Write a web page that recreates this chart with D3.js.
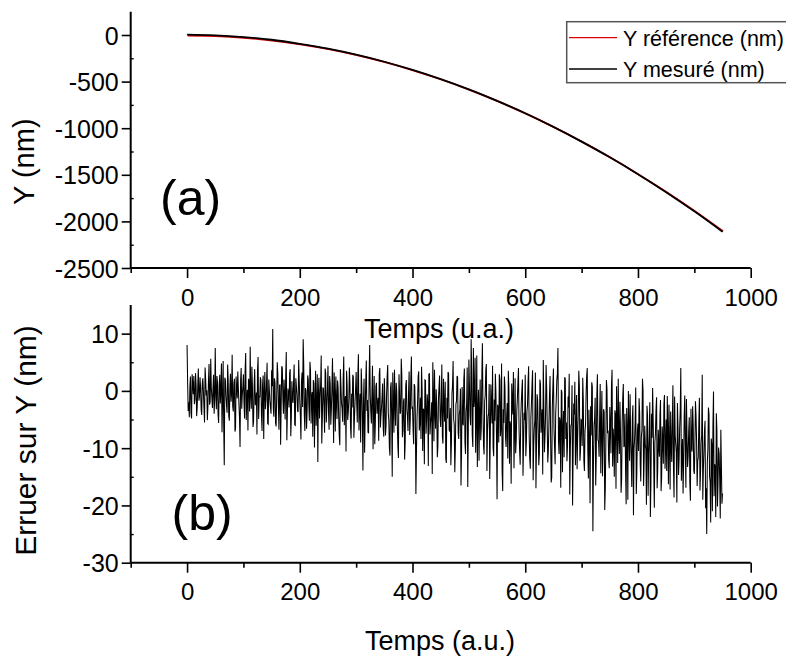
<!DOCTYPE html>
<html><head><meta charset="utf-8">
<script src="https://cdn.jsdelivr.net/npm/d3@7/dist/d3.min.js"></script>
<style>
html,body{margin:0;padding:0;background:#fff;}
svg text{font-family:"Liberation Sans",Arial,Helvetica,sans-serif;fill:#000;}
</style></head>
<body>
<svg id="chart" width="786" height="662"></svg>
<script>
// ---------- DATA ----------
const timeCoarse = [0,50,100,150,200,250,300,350,400,450,500,550,600,650,700,750,800,850,900,950];
const yReference = [0,-5.8,-23.3,-52.4,-93.1,-145.4,-209.4,-285,-372.3,-471.2,-581.7,-703.9,-837.7,-983.1,-1140.2,-1308.9,-1489.2,-1681.2,-1884.8,-2100];
const yMeasured  = [3,-4,-22,-51,-95,-147,-211,-287,-375,-474,-584,-707,-840,-986,-1144,-1312,-1493,-1686,-1892,-2110];
// error on Y at even times t = 0,2,4,...,950
const errorEven = [
 8.0,-3.5,-4.6,2.5,-4.8,1.2,2.6,-1.5,1.0,-2.8,3.9,-1.0,0.5,-4.2,2.2,-3.0,4.1,-0.8,-5.1,1.8,-2.4,5.6,-1.2,0.4,-4.0,
 7.5,-3.2,1.5,-5.6,2.8,0.3,-7.2,5.2,-13.0,1.9,-2.5,4.6,-4.4,0.8,-1.9,6.3,-3.6,2.1,-6.5,0.2,3.4,-2.2,-9.8,4.0,-0.6,
 2.9,-4.8,6.6,-1.4,-6.9,1.6,7.7,-3.1,0.6,-5.3,3.8,-2.0,-7.6,5.9,-0.9,2.4,-4.3,1.1,-8.4,3.3,-1.7,4.9,-5.8,0.1,-2.9,
 3.6,10.8,-4.5,1.4,-6.2,5.0,-2.6,0.9,-9.4,4.3,-1.3,2.0,-5.0,6.8,-3.8,-0.4,3.1,-7.9,1.7,-2.1,4.6,-6.0,0.7,-3.4,5.4,
 -1.8,-8.5,3.2,9.0,-4.1,0.5,-6.6,2.7,-2.4,5.1,-5.7,-0.2,1.9,-9.9,3.5,-3.0,-12.4,2.3,-1.1,6.2,-4.6,0.4,-7.3,3.0,-2.7,
 4.4,-6.8,1.2,-3.3,5.7,-9.1,-0.8,2.5,-4.9,0.6,-7.7,3.8,-2.2,-5.4,6.0,-1.5,-10.6,1.0,-3.7,4.1,-6.3,-0.5,2.8,-8.2,-1.9,
 3.3,-5.5,6.4,-2.9,-9.0,0.9,-13.9,2.1,-4.2,5.3,-1.6,-7.4,8.0,-3.6,-0.3,-10.2,2.6,-5.9,1.4,-2.5,-8.7,4.0,-4.4,-1.0,-6.5,
 2.2,-7.8,-0.7,4.5,-5.2,-11.3,1.5,-15.0,-2.3,3.7,-6.1,-0.1,-9.6,2.9,-4.0,5.6,-8.1,-1.8,-12.0,1.0,-3.2,-7.0,3.4,-5.0,6.0,
 -2.9,-9.3,0.8,-18.0,-4.7,2.6,-6.9,-1.2,4.2,-10.5,-3.4,1.9,-7.5,-0.6,-13.1,3.1,-5.6,-2.0,5.0,-8.8,-3.9,0.3,-11.6,-1.5,2.7,
 -6.3,4.6,-9.2,-2.7,1.6,-12.6,-4.8,3.0,-7.1,-13.0,-0.5,5.2,-5.9,-10.0,-1.8,2.4,-8.4,-3.3,-16.5,0.7,-6.0,3.9,-11.0,-2.4,-16.8,
 5.5,-4.2,9.0,-7.7,7.5,-1.1,-10.8,6.2,-3.6,-12.2,2.0,-6.4,8.3,-9.5,-1.9,3.6,-14.0,-4.5,1.2,-8.0,-2.6,4.4,-11.4,-5.2,-0.4,
 -18.9,-3.0,2.9,-7.9,4.8,-17.5,-5.6,0.6,-9.8,-2.1,3.5,-12.7,-6.0,1.3,-4.1,-13.5,2.2,-8.6,-1.4,4.0,-10.3,-5.0,0.1,-14.8,-3.8,
 2.8,-8.9,-2.5,4.3,-11.9,-4.7,1.0,-15.6,-6.5,3.2,-9.2,-1.6,-13.0,2.0,-7.3,-3.2,5.4,-10.7,-4.4,0.4,-12.5,-5.9,2.6,-16.0,-2.9,
 3.9,-9.7,-4.0,1.8,7.5,-11.0,-5.3,0.2,-14.2,-3.5,2.4,-8.4,-12.3,-1.0,3.0,-9.9,-5.8,-20.0,-2.2,1.6,-7.6,-13.7,-3.9,0.9,-10.6,
 -5.1,2.3,-12.1,-7.0,-0.5,4.0,-15.3,-8.2,-2.7,1.5,-24.5,-6.2,-1.2,-11.3,2.9,-8.8,-4.6,-14.4,0.0,-9.5,-3.7,-17.2,1.9,-7.4,-12.0,
 -2.8,-10.9,3.7,-6.6,-15.0,-4.1,0.8,-12.6,-7.9,-1.9,-17.8,-5.4,1.2,-9.4,-13.9,-3.0,-19.0,-7.1,-0.6,-11.8,-4.9,-21.7,-8.5,0.6,-14.1,
 -5.7,-1.3,-12.9,-8.0,2.1,-16.6,-6.1,-10.2,-2.6,-18.3,-7.6,-22.0,-4.0,0.5,-13.2,-9.0,-3.3,-17.0,-6.8,-11.5,-1.6,-15.1,-8.7,-2.3,-13.6,
 -5.0,-0.9,-16.3,-9.3,-3.6,-12.4,1.0,-18.6,-7.7,-10.8,-2.1,-14.7,-6.4,4.0,-11.2,-17.9,-4.5,-9.8,-1.4,-13.3,-7.2,-16.0,-3.1,-10.6,-6.0,
 -14.5,-1.8,-8.9,-12.2,-5.5,-17.4,-9.1,2.8,-13.8,-7.0,-20.5,-25.0,-10.3,-4.1,-15.9,-8.3,-21.0,-0.1,-12.8,-22.0,-6.7,-16.2,-11.0,-22.3,-13.0,
 -17.9
];
// error on Y at odd times t = 1,3,5,...,949
const errorOdd = [
 1.5,-2.0,0.8,-3.9,2.9,-0.6,-2.3,3.1,-4.4,0.9,-1.7,2.4,-3.3,1.3,-0.2,-5.5,2.0,0.1,-2.6,4.7,-1.9,0.6,-3.0,2.8,-1.4,
 -0.5,2.6,-4.1,0.9,-2.2,4.8,-1.6,-6.0,2.3,-0.9,-3.8,1.7,-5.2,3.0,-0.4,-2.7,1.2,-7.1,2.5,-1.3,0.4,-4.6,1.9,-3.1,0.7,
 -1.9,3.4,-5.1,0.2,2.1,-3.6,-0.8,4.2,-6.3,1.0,-2.5,-0.3,3.6,-4.9,-1.1,1.8,-7.0,2.7,-0.5,-3.2,1.4,-5.7,2.0,-1.8,-4.0,
 0.8,-3.0,2.2,-5.6,-0.9,3.0,-6.8,1.1,-2.2,4.0,-4.0,-0.7,2.5,-8.6,0.4,-2.9,3.8,-4.7,-1.4,1.6,-5.9,2.2,-0.6,-3.7,1.8,
 -4.3,1.5,-2.8,4.4,-7.0,0.0,-3.5,2.0,-5.2,3.6,-1.0,-8.0,1.3,-2.6,-6.1,2.9,-0.5,-4.8,1.1,-9.2,0.6,-3.1,3.9,-5.5,0.2,
 -3.8,2.6,-5.9,0.4,-1.7,3.2,-7.1,-2.0,1.8,-4.4,-9.5,0.9,-3.0,2.2,-6.0,-0.9,3.5,-5.1,-1.5,1.0,-8.3,-2.9,2.4,-4.7,0.3,
 -2.1,2.7,-6.9,-0.5,3.9,-4.6,-1.8,-10.8,1.6,-3.5,-7.2,2.3,-0.8,-5.7,4.4,-2.6,-9.3,0.8,-4.0,-1.2,3.0,-6.4,-2.8,1.3,-8.0,
 -1.5,-6.2,2.6,-3.9,-10.0,0.5,-4.7,3.2,-7.3,-2.1,1.4,-5.8,-11.7,-0.4,-3.6,2.8,-6.9,-1.3,-9.0,1.9,-4.5,-0.2,-7.7,2.2,-3.0,
 -6.8,1.2,-4.0,-10.6,-1.9,3.4,-5.5,-8.4,0.2,-3.1,-12.8,1.8,-5.0,-2.2,2.9,-7.6,-4.4,-14.5,-0.9,3.7,-6.6,-2.9,-9.7,0.6,-4.8,
 -2.0,-8.0,2.1,-5.4,-11.8,-1.2,3.3,-6.8,-3.0,-9.1,1.0,-4.9,-14.2,-2.3,2.6,-7.3,-4.1,0.4,-10.4,-5.6,1.9,-8.9,-3.6,4.1,-6.5,
 0.9,-6.0,3.1,-9.8,-2.8,5.8,-5.1,-13.3,0.2,-4.0,-8.6,2.6,-3.3,-11.1,-0.8,4.7,-7.0,-3.9,-15.4,1.1,-5.7,-9.9,-1.5,3.0,-7.8,
 -2.4,-9.0,1.9,-6.3,-14.0,-3.2,2.5,-8.1,-4.6,-11.8,0.3,-5.3,-16.2,-1.9,3.3,-7.4,-10.9,-3.5,1.5,-6.8,-12.9,-2.0,2.0,-9.3,-5.1,
 -11.4,-3.6,1.7,-7.8,-13.6,-2.2,3.6,-9.5,-5.2,-17.0,-0.6,-6.9,-11.0,1.2,-4.8,-14.6,-2.7,-8.1,4.5,-6.2,-10.3,-1.0,-7.9,-15.1,0.7,
 -6.6,-12.8,-1.6,3.0,-8.7,-4.6,-16.9,-0.2,-7.2,-11.6,2.1,-5.5,-9.4,-2.9,-18.1,-6.0,1.0,-10.8,-4.1,-13.0,-0.7,-8.0,3.5,-12.2,-5.0,
 -9.6,-1.7,-14.0,-5.9,2.6,-10.4,-3.3,-19.6,-7.8,0.7,-12.8,-4.9,-16.5,-0.8,-8.6,-11.5,1.2,-6.3,-14.9,-3.2,-20.8,-9.0,0.3,-6.9,-13.5,
 -6.0,0.9,-13.2,-8.7,-3.4,-17.1,-5.6,2.1,-11.0,-7.3,-15.5,-1.2,-9.8,-4.0,-19.8,-6.6,0.0,-12.2,-8.1,-16.8,-2.5,-10.1,-5.2,-18.0,-7.0,
 -10.5,-3.9,-15.8,-6.9,0.0,-12.0,-9.4,-19.9,-4.4,-11.1,-2.0,-16.0,-8.2,-5.3,-20.4,-7.5,-1.1,-13.8,-9.9,-4.2,-17.5,-6.2,-12.7,-0.7,-10.0,
 -14.0,-7.1,-2.4,-17.2,-10.0,-5.2,-13.6,-1.0,-9.3,-19.5,-6.5,-11.9,-3.3,-15.7,-8.4,-12.6,-0.8,-16.9,-7.9,-11.4,-4.6,-19.2,-9.6,-2.7,-13.9,
 -9.7,-4.4,-16.6,-11.6,-1.2,-14.2,-7.8,-19.0,-10.8,-5.2,-17.0,-12.5,-2.9,-15.0,-23.0,-9.4,-6.0,-18.4,-13.3,-3.9,-20.2,-9.9,-15.4,-6.8,-19.7
];
const xTicks = [0,200,400,600,800,1000];
const xMinor = [-100,100,300,500,700,900];
const yTicksTop = [0,-500,-1000,-1500,-2000,-2500];
const yMinorTop = [250,-250,-750,-1250,-1750,-2250];
const yTicksBot = [10,0,-10,-20,-30];
const yMinorBot = [15,5,-5,-15,-25];
const legendLabels = ["Y référence (nm)","Y mesuré (nm)"];
const seriesColors = ["#e00000","#000000"];

// combined error series (time, value)
const errorSeries = errorEven.map((v,i)=>({t:2*i, v}))
  .concat(errorOdd.map((v,i)=>({t:2*i+1, v})))
  .sort((a,b)=>a.t-b.t);

// ---------- LAYOUT ----------
const svg = d3.select("#chart");
const FONT = '"Liberation Sans",Arial,Helvetica,sans-serif';
const x = d3.scaleLinear().domain([-100,1000]).range([130.7,750.7]);
const yTop = d3.scaleLinear().domain([-2500,250]).range([268,11.7]);
const yBot = d3.scaleLinear().domain([-30,15]).range([562.7,305]);
const fmt = d => String(d);

function drawAxes(yScale, yTicks, yMinor, yBase){
  const gx = svg.append("g").attr("transform",`translate(0,${yBase})`)
    .call(d3.axisBottom(x).tickValues(xTicks).tickSize(10).tickPadding(10.5).tickFormat(fmt));
  gx.select(".domain").attr("stroke","#000").attr("stroke-width",2).attr("d",`M${x.range()[0]},0H${x.range()[1]}`);
  gx.selectAll(".tick line").attr("stroke-width",1.6);
  gx.selectAll(".tick text").attr("font-size",24).attr("font-family",FONT);
  const gxm = svg.append("g").attr("transform",`translate(0,${yBase})`)
    .call(d3.axisBottom(x).tickValues(xMinor).tickSize(5).tickFormat(""));
  gxm.select(".domain").remove();
  gxm.selectAll(".tick line").attr("stroke-width",1.6);
  const gy = svg.append("g").attr("transform",`translate(${x.range()[0]},0)`)
    .call(d3.axisLeft(yScale).tickValues(yTicks).tickSize(9).tickPadding(3).tickFormat(fmt));
  gy.select(".domain").attr("stroke","#000").attr("stroke-width",2).attr("d",`M0,${yScale.range()[1]}V${yScale.range()[0]}`);
  gy.selectAll(".tick line").attr("stroke-width",1.6);
  gy.selectAll(".tick text").attr("font-size",25).attr("font-family",FONT).attr("dy","0.36em");
  const gym = svg.append("g").attr("transform",`translate(${x.range()[0]},0)`)
    .call(d3.axisRight(yScale).tickValues(yMinor.filter(v=>v!==yScale.domain()[1])).tickSize(3).tickFormat(""));
  gym.select(".domain").remove();
  gym.selectAll(".tick line").attr("stroke-width",1.4);
}

drawAxes(yTop, yTicksTop, yMinorTop, 268);
drawAxes(yBot, yTicksBot, yMinorBot, 562.7);

// ---------- TOP PANEL LINES ----------
const lineTop = d3.line().x((d,i)=>x(timeCoarse[i])).y(d=>yTop(d)).curve(d3.curveCatmullRom);
svg.append("path").datum(yReference).attr("d",lineTop)
  .attr("fill","none").attr("stroke",seriesColors[0]).attr("stroke-width",1.8)
  .attr("transform","translate(0.6,0.6)");
svg.append("path").datum(yMeasured).attr("d",lineTop)
  .attr("fill","none").attr("stroke",seriesColors[1]).attr("stroke-width",1.8);

// ---------- BOTTOM PANEL LINE ----------
const lineBot = d3.line().x(d=>x(d.t)).y(d=>yBot(d.v));
svg.append("path").datum(errorSeries).attr("d",lineBot)
  .attr("fill","none").attr("stroke","#000").attr("stroke-width",1.05).attr("stroke-linejoin","miter");

// ---------- TITLES ----------
svg.append("text").attr("transform","translate(33.5,161.7) rotate(-90)")
  .attr("text-anchor","middle").attr("font-size",29).text("Y (nm)");
svg.append("text").attr("transform","translate(36,440.5) rotate(-90)")
  .attr("text-anchor","middle").attr("font-size",30).text("Erruer sur Y (nm)");
svg.append("text").attr("x",439).attr("y",338).attr("text-anchor","middle")
  .attr("font-size",27).text("Temps (u.a.)");
svg.append("text").attr("x",440).attr("y",650).attr("text-anchor","middle")
  .attr("font-size",27).text("Temps (a.u.)");
svg.append("text").attr("x",160).attr("y",214.5).attr("font-size",50).text("(a)");
svg.append("text").attr("x",171.5).attr("y",529.5).attr("font-size",50).text("(b)");

// ---------- LEGEND ----------
const lg = svg.append("g");
lg.append("rect").attr("x",566.7).attr("y",21.7).attr("width",230).attr("height",61)
  .attr("fill","#fff").attr("stroke","#555").attr("stroke-width",1.5);
legendLabels.forEach((lab,i)=>{
  const yy = [37.7,69][i];
  lg.append("line").attr("x1",569).attr("x2",617).attr("y1",yy).attr("y2",yy)
    .attr("stroke",seriesColors[i]).attr("stroke-width",1.3);
  lg.append("text").attr("x",623).attr("y",[46,77][i]).attr("font-size",21.5).text(lab);
});
</script>
</body></html>
